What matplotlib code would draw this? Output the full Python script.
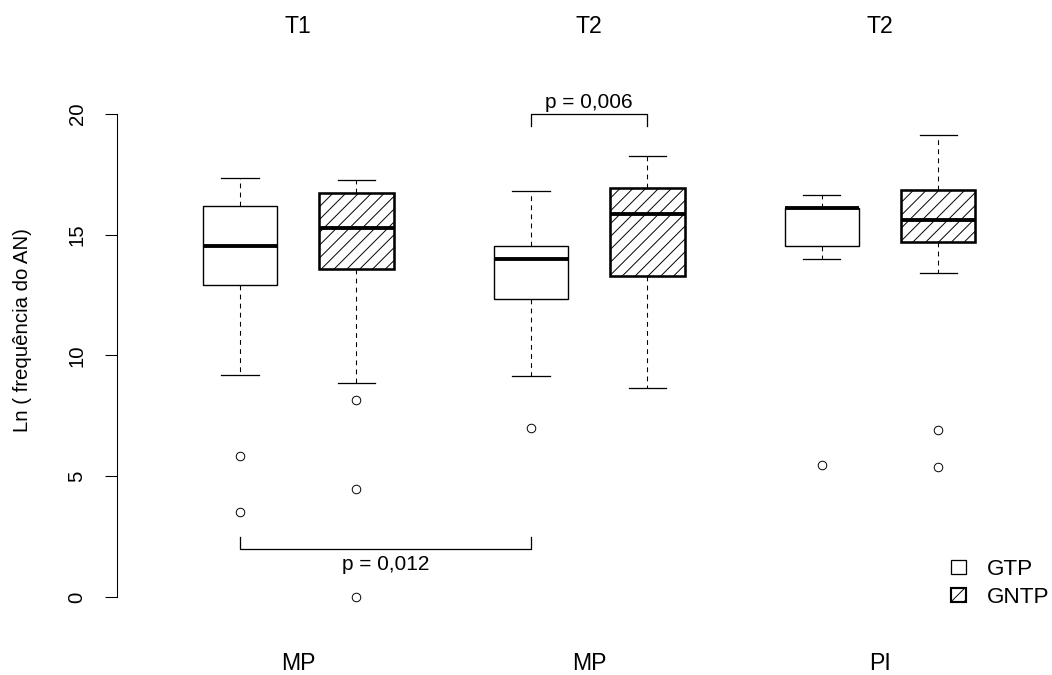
import matplotlib
matplotlib.use("Agg")
import matplotlib.pyplot as plt
from matplotlib.patches import Patch

plt.rcParams['font.family'] = ['Liberation Sans', 'DejaVu Sans']
plt.rcParams['hatch.linewidth'] = 0.9

# ---- data ----
groups = ['GTP', 'GNTP']
top_labels = ['T1', 'T2', 'T2']
bottom_labels = ['MP', 'MP', 'PI']

gtp_med = [14.53, 14.00, 16.10]
gtp_q1 = [12.92, 12.34, 14.53]
gtp_q3 = [16.20, 14.53, 16.12]
gtp_lo = [9.19, 9.15, 14.00]
gtp_hi = [17.34, 16.81, 16.65]
gtp_out = [[5.84, 3.51], [6.98], [5.44]]

gntp_med = [15.27, 15.86, 15.61]
gntp_q1 = [13.58, 13.29, 14.70]
gntp_q3 = [16.74, 16.94, 16.85]
gntp_lo = [8.85, 8.65, 13.42]
gntp_hi = [17.27, 18.26, 19.13]
gntp_out = [[8.16, 4.47, 0.0], [], [6.92, 5.38]]

p_labels = ['p = 0,012', 'p = 0,006']

# ---- layout ----
DPI = 77
centers = [1.5, 4.0, 6.5]
pos_gtp = [c - 0.5 for c in centers]
pos_gntp = [c + 0.5 for c in centers]
FS_GRP = 21.5   # T1 / MP labels
FS_P = 19.5     # p values
FS_TICK = 19
FS_YLAB = 19
FS_LEG = 21


def make_stats(med, q1, q3, lo, hi, out):
    return [dict(med=m, q1=a, q3=b, whislo=l, whishi=h, fliers=f)
            for m, a, b, l, h, f in zip(med, q1, q3, lo, hi, out)]


fig = plt.figure(figsize=(1052.3 / DPI, 675.3 / DPI), dpi=DPI)
ax = fig.add_axes([117 / 1052, 1 - 616 / 675, 923 / 1052, 521 / 675])

common = dict(widths=0.64, capwidths=0.32, patch_artist=True,
              whiskerprops=dict(color='k', linewidth=1.0, linestyle=(0, (4.5, 4))),
              capprops=dict(color='k', linewidth=1.2),
              flierprops=dict(marker='o', markersize=8, markerfacecolor='none',
                              markeredgecolor='k', markeredgewidth=0.9),
              medianprops=dict(color='k', linewidth=3.6, solid_capstyle='butt'))

ax.bxp(make_stats(gtp_med, gtp_q1, gtp_q3, gtp_lo, gtp_hi, gtp_out),
       positions=pos_gtp,
       boxprops=dict(facecolor='white', edgecolor='k', linewidth=1.3),
       **common)
ax.bxp(make_stats(gntp_med, gntp_q1, gntp_q3, gntp_lo, gntp_hi, gntp_out),
       positions=pos_gntp,
       boxprops=dict(facecolor='white', edgecolor='k', linewidth=2.4, hatch='//'),
       **common)

# significance brackets
x0, x1 = pos_gtp[0], pos_gtp[1]
ax.plot([x0, x0, x1, x1], [2.5, 2.0, 2.0, 2.5], color='k', lw=1.2)
ax.text((x0 + x1) / 2, 1.12, p_labels[0], ha='center', va='baseline', fontsize=FS_P)
x0, x1 = pos_gtp[1], pos_gntp[1]
ax.plot([x0, x0, x1, x1], [19.5, 20.0, 20.0, 19.5], color='k', lw=1.2)
ax.text((x0 + x1) / 2, 20.25, p_labels[1], ha='center', va='baseline', fontsize=FS_P)

# group labels above and below
for c, t, b in zip(centers, top_labels, bottom_labels):
    ax.text(c, 1.1184, t, ha='center', va='baseline', fontsize=FS_GRP,
            transform=ax.get_xaxis_transform())
    ax.text(c, -0.1036, b, ha='center', va='baseline', fontsize=FS_GRP,
            transform=ax.get_xaxis_transform())

ax.set_xlim(-0.057, 7.877)
ax.set_ylim(-0.79, 20.79)
for s in ['top', 'right', 'bottom']:
    ax.spines[s].set_visible(False)
ax.spines['left'].set_bounds(0, 20)
ax.spines['left'].set_linewidth(1.0)
ax.set_xticks([])
ax.set_yticks([0, 5, 10, 15, 20])
ax.tick_params(axis='y', length=11.5, width=1.0, pad=17, labelsize=FS_TICK,
               labelrotation=90)
for lab in ax.get_yticklabels():
    lab.set_va('center')

fig.text(22.3 / 1052, 1 - 329.5 / 675, 'Ln ( frequência do AN)', rotation=90,
         ha='center', va='center', fontsize=FS_YLAB)

handles = [Patch(facecolor='white', edgecolor='k', linewidth=1.2, label=groups[0]),
           Patch(facecolor='white', edgecolor='k', linewidth=2.0, hatch='//',
                 label=groups[1])]
ax.legend(handles=handles, loc='upper left', frameon=False, fontsize=FS_LEG,
          bbox_to_anchor=(951 / 1052, 1 - 559 / 675),
          bbox_transform=fig.transFigure, borderpad=0, borderaxespad=0,
          handlelength=0.65, handleheight=0.62, handletextpad=0.95,
          labelspacing=0.3)

fig.savefig('out.png', dpi=DPI)
